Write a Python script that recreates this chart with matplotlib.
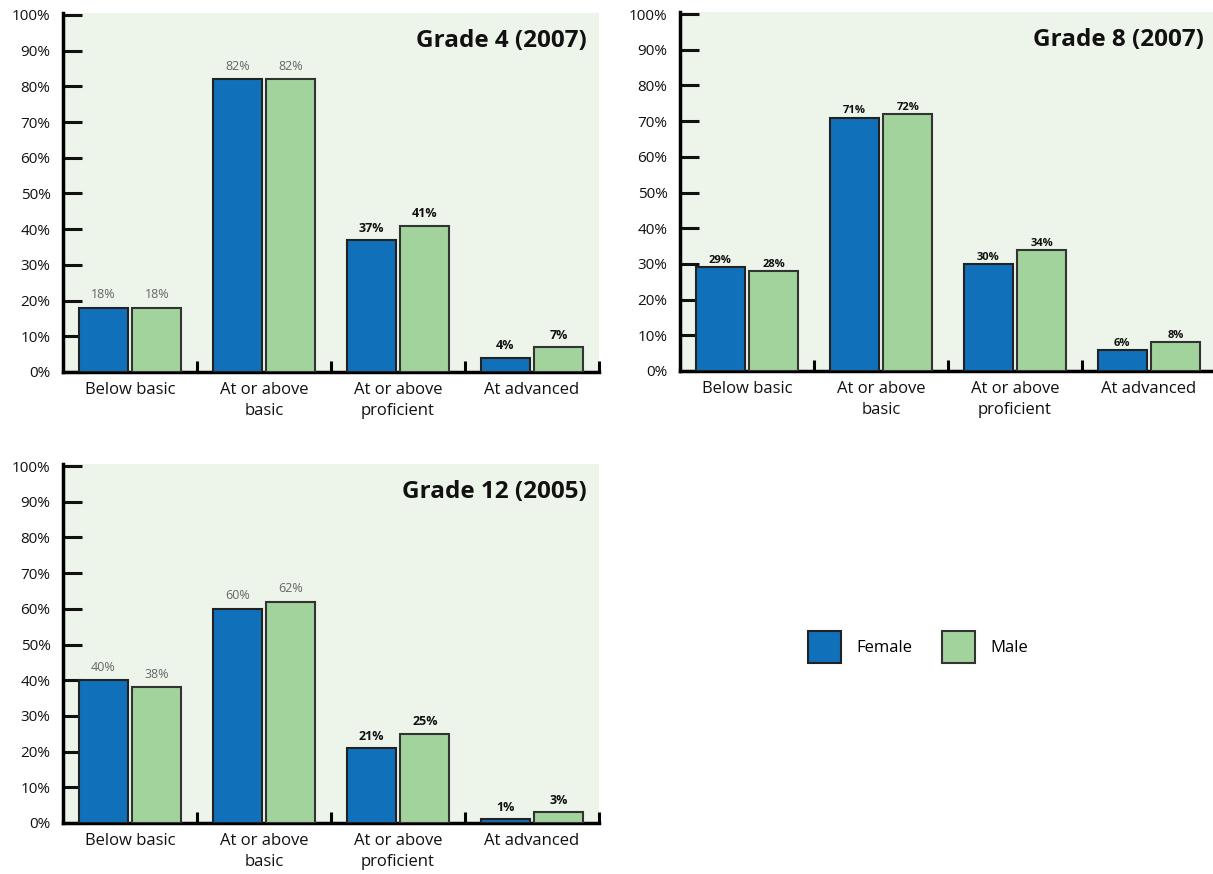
import matplotlib.pyplot as plt
from matplotlib.patches import Patch
import numpy as np

plt.rcParams['font.family'] = ['Open Sans', 'DejaVu Sans']

categories = ['Below basic', 'At or above\nbasic', 'At or above\nproficient', 'At advanced']
titles = ['Grade 4 (2007)', 'Grade 8 (2007)', 'Grade 12 (2005)']
female = [[18, 82, 37, 4], [29, 71, 30, 6], [40, 60, 21, 1]]
male = [[18, 82, 41, 7], [28, 72, 34, 8], [38, 62, 25, 3]]
# which value labels are drawn plain grey (True) rather than bold black
grey_labels = [[True, True, False, False], [False] * 4, [True, True, False, False]]

c_f = '#1170ba'
c_m = '#a3d39c'
bg = '#edf5ea'

W, H = 1213, 874
fig = plt.figure(figsize=(W / 100, H / 100), dpi=100)

# left, bottom(px of 0%), width, top(px of 100%)
boxes = [(63, 372, 536, 15), (680, 371, 536, 14), (63, 823, 536, 466)]
ytop = 100.5

axes = []
for (l, b, w, t) in boxes:
    pxper = (b - t) / 100.0
    h = pxper * ytop
    ax = fig.add_axes([l / W, 1 - b / H, w / W, h / H])
    axes.append(ax)

x = np.arange(4)
bw = 0.365
off = 0.2
for i, ax in enumerate(axes):
    ax.set_facecolor(bg)
    ax.bar(x - off, female[i], bw, color=c_f, edgecolor='#222222', linewidth=1.5, zorder=3)
    ax.bar(x + off, male[i], bw, color=c_m, edgecolor='#333333', linewidth=1.5, zorder=3)
    ax.set_xlim(-0.5, 3.5)
    ax.set_ylim(0, ytop)
    for j in range(4):
        for xx, v in ((x[j] - off, female[i][j]), (x[j] + off, male[i][j])):
            if grey_labels[i][j]:
                ax.text(xx, v + 1.8, f'{v}%', ha='center', va='bottom', fontsize=9,
                        color='#666666', zorder=4)
            elif i == 1:
                ax.text(xx, v + 0.3, f'{v}%', ha='center', va='bottom', fontsize=8,
                        fontweight='bold', color='#111111', zorder=4)
            else:
                ax.text(xx, v + 1.5, f'{v}%', ha='center', va='bottom', fontsize=9,
                        fontweight='bold', color='#111111', zorder=4)
    for s in ('top', 'right'):
        ax.spines[s].set_visible(False)
    ax.spines['left'].set_linewidth(2.5)
    ax.spines['bottom'].set_linewidth(2.5)
    ax.set_yticks(np.arange(0, 101, 10))
    ax.set_yticklabels([f'{v}%' for v in range(0, 101, 10)])
    ax.tick_params(axis='y', direction='in', length=14, width=2.2, labelsize=11,
                   pad=9, colors='#111111')
    ax.set_xticks([0.5, 1.5, 2.5, 3.5])
    ax.set_xticklabels([])
    ax.tick_params(axis='x', which='major', direction='in', length=8, width=2.2)
    ax.set_xticks(x, minor=True)
    ax.set_xticklabels(categories, minor=True, fontsize=12, color='#111111', linespacing=1.4)
    ax.tick_params(axis='x', which='minor', length=0, pad=7)
    ax.text(0.978, 0.955, titles[i], transform=ax.transAxes, ha='right', va='top',
            fontsize=17.5, fontweight='bold', color='#111111')

handles = [Patch(facecolor=c_f, edgecolor='#222222', linewidth=1.5, label='Female'),
           Patch(facecolor=c_m, edgecolor='#333333', linewidth=1.5, label='Male')]
fig.legend(handles=handles, loc='center', bbox_to_anchor=(918 / W, 1 - 647 / H), ncol=2,
           frameon=False, fontsize=12, handlelength=2.0, handleheight=2.6,
           handletextpad=0.9, columnspacing=1.8)

fig.savefig('out.png', dpi=100)
